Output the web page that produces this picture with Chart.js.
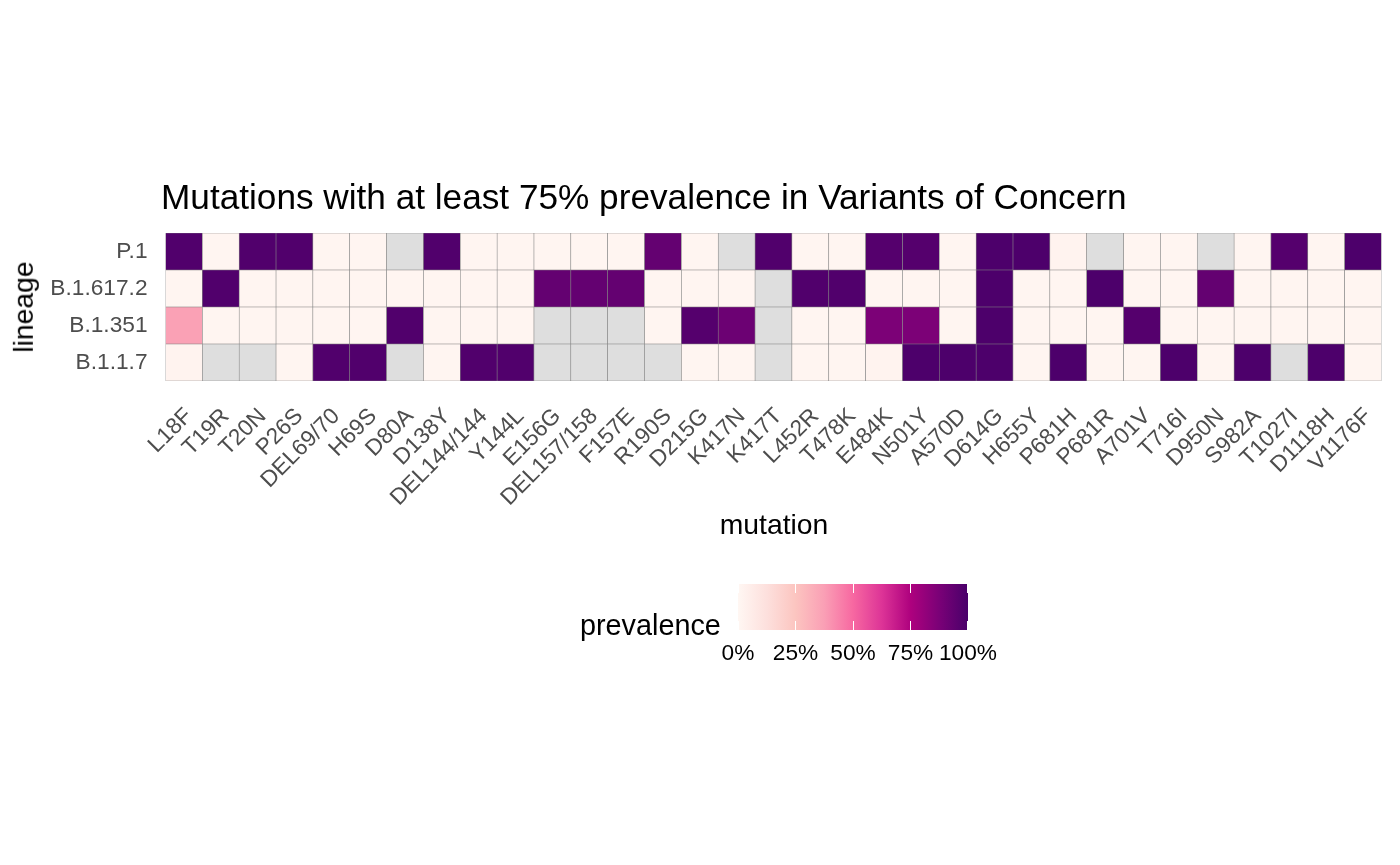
<!DOCTYPE html>
<html><head><meta charset="utf-8">
<script src="https://cdn.jsdelivr.net/npm/chart.js@4.4.0/dist/chart.umd.min.js"></script>
<style>
html,body{margin:0;padding:0;background:#fff;}
#wrap{position:relative;width:1400px;height:865px;overflow:hidden;font-family:"Liberation Sans",Arial,Helvetica,sans-serif;}
#c{position:absolute;left:0;top:0;}
.t{position:absolute;line-height:1;white-space:nowrap;color:#000;}
#bar{position:absolute;left:738px;top:584px;width:230px;height:46px;}
.tick{position:absolute;width:1px;height:9px;background:#fff;}
</style></head><body>
<div id="wrap">
<canvas id="c" width="1400" height="865"></canvas>
<div class="t" style="left:161px;top:179px;font-size:35.2px;">Mutations with at least 75% prevalence in Variants of Concern</div>
<div class="t" style="left:774px;top:510px;font-size:28.3px;transform:translateX(-50%);">mutation</div>
<div class="t" style="left:23px;top:307px;font-size:28.3px;transform:translate(-50%,-50%) rotate(-90deg);">lineage</div>
<div class="t" style="left:580px;top:611px;font-size:28.8px;">prevalence</div>
<div id="bar"></div>
<div id="legendLabels"></div>
</div>
<script>
// ---- data ----
const mutations = ['L18F','T19R','T20N','P26S','DEL69/70','H69S','D80A','D138Y','DEL144/144','Y144L','E156G','DEL157/158','F157E','R190S','D215G','K417N','K417T','L452R','T478K','E484K','N501Y','A570D','D614G','H655Y','P681H','P681R','A701V','T716I','D950N','S982A','T1027I','D1118H','V1176F'];
// lineages bottom -> top
const lineages = ['B.1.1.7','B.1.351','B.1.617.2','P.1'];
const prevB117   = [0.02,null,null,0.01,0.98,0.98,null,0.01,0.98,0.98,null,null,null,null,0.01,0.01,null,0.01,0.01,0.02,0.99,0.99,0.99,0.01,0.99,0.01,0.01,0.99,0.01,0.99,null,0.99,0.01];
const prevB1351  = [0.37,0.01,0.01,0.01,0.01,0.01,0.98,0.01,0.01,0.01,null,null,null,0.01,0.97,0.91,null,0.01,0.01,0.87,0.87,0.01,0.99,0.01,0.01,0.01,0.97,0.01,0.01,0.01,0.01,0.01,0.01];
const prevB16172 = [0.01,0.98,0.01,0.01,0.01,0.01,0.01,0.01,0.01,0.01,0.93,0.93,0.93,0.01,0.01,0.01,null,0.98,0.98,0.01,0.01,0.01,0.99,0.01,0.01,0.99,0.01,0.01,0.93,0.01,0.01,0.01,0.01];
const prevP1     = [0.98,0.01,0.98,0.98,0.01,0.01,null,0.98,0.01,0.01,0.01,0.01,0.01,0.93,0.01,null,0.98,0.01,0.01,0.97,0.97,0.01,0.99,0.99,0.02,null,0.01,0.01,null,0.01,0.97,0.01,0.99];
const series = [prevB117, prevB1351, prevB16172, prevP1];
const legendBreaks = [0, 25, 50, 75, 100];
const legendLabels = ['0%','25%','50%','75%','100%'];
const palette = ['#fff7f3','#fde0dd','#fcc5c0','#fa9fb5','#f768a1','#dd3497','#ae017e','#7a0177','#49006a'];
const naColour = '#dedede';

// ---- colour helpers ----
function hex2rgb(h){return [parseInt(h.slice(1,3),16),parseInt(h.slice(3,5),16),parseInt(h.slice(5,7),16)];}
const palRGB = palette.map(hex2rgb);
function colourFor(v){
  if (v === null || v === undefined) return naColour;
  const p = Math.max(0, Math.min(1, v)) * (palRGB.length - 1);
  const i = Math.min(Math.floor(p), palRGB.length - 2);
  const f = p - i;
  const a = palRGB[i], b = palRGB[i+1];
  const c = a.map((x,k)=>Math.round(x + (b[k]-x)*f));
  return 'rgb(' + c.join(',') + ')';
}

// ---- legend colourbar ----
const bar = document.getElementById('bar');
bar.style.background = 'linear-gradient(to right,' + palette.map((c,i)=>c+' '+(i*100/(palette.length-1))+'%').join(',') + ')';
const ll = document.getElementById('legendLabels');
legendBreaks.forEach((b,i)=>{
  const x = 230 * b / 100;
  ['top','bottom'].forEach(side=>{
    const t = document.createElement('div');
    t.className = 'tick';
    t.style.left = (Math.min(x, 229) - 0.5) + 'px';
    t.style[side] = '0px';
    bar.appendChild(t);
  });
  const d = document.createElement('div');
  d.className = 't';
  d.style.fontSize = '22.7px';
  d.style.left = (738 + x) + 'px';
  d.style.top = '641px';
  d.style.transform = 'translateX(-50%)';
  d.textContent = legendLabels[i];
  ll.appendChild(d);
});

// ---- heatmap ----
Chart.defaults.font.family = '"Liberation Sans", Arial, Helvetica, sans-serif';
const datasets = lineages.map((name, i) => ({
  label: name,
  data: series[i].map(() => [i, i + 1]),
  backgroundColor: series[i].map(colourFor),
  borderColor: '#858585',
  borderWidth: 0.6,
  borderSkipped: false,
  barPercentage: 1,
  categoryPercentage: 1,
  grouped: false
}));

new Chart(document.getElementById('c'), {
  type: 'bar',
  data: { labels: mutations, datasets },
  options: {
    responsive: false,
    animation: false,
    devicePixelRatio: 1,
    layout: { padding: { top: 233, right: 18.5, left: 0, bottom: 0 } },
    plugins: { legend: { display: false }, tooltip: { enabled: false }, title: { display: false } },
    scales: {
      x: {
        type: 'category',
        offset: true,
        grid: { display: false, drawTicks: false },
        border: { display: false },
        ticks: { autoSkip: false, maxRotation: 45, minRotation: 45, padding: 22, labelOffset: 5, color: '#4d4d4d', font: { size: 22.7 } },
        afterFit: (s) => { s.height = 484; s.paddingLeft = 0; s.paddingRight = 0; }
      },
      y: {
        type: 'linear',
        min: 0,
        max: lineages.length,
        grid: { display: false, drawTicks: false },
        border: { display: false },
        afterBuildTicks: (s) => { s.ticks = lineages.map((_, i) => ({ value: i + 0.5 })); },
        ticks: { padding: 18, color: '#4d4d4d', font: { size: 22.7 }, callback: (v) => lineages[Math.floor(v)] },
        afterFit: (s) => { s.width = 165.5; s.paddingTop = 0; s.paddingBottom = 0; }
      }
    }
  }
});
</script>
</body></html>
